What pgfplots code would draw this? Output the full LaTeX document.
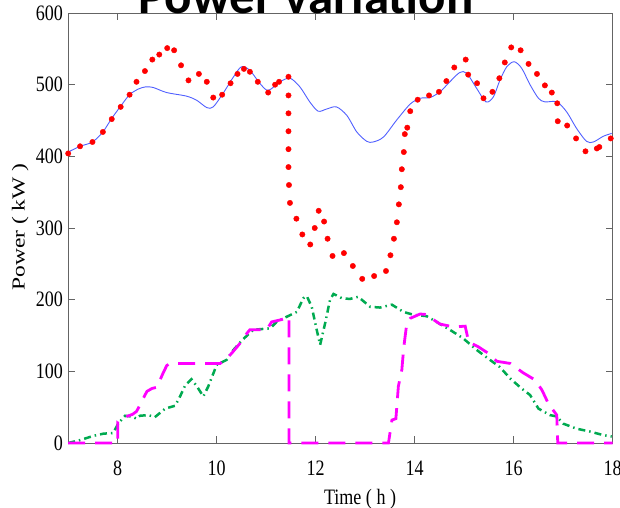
\documentclass[border=0pt]{standalone}
\usepackage{pgfplots}
\pgfplotsset{compat=1.18}
\usepackage{graphicx}
\usepackage{fontspec}
\setmainfont{Liberation Serif}
\newfontfamily\tickfont[FakeStretch=0.82]{Liberation Serif}
\newfontfamily\titlefont{Carlito}
\definecolor{axisgray}{RGB}{100,100,100}
\definecolor{bluel}{RGB}{80,95,255}
\definecolor{greenl}{RGB}{0,170,80}
\definecolor{magl}{RGB}{255,0,255}
\begin{document}
\begin{tikzpicture}
\useasboundingbox (-68.2bp,-65bp) rectangle (551.8bp,443bp);
\begin{axis}[
  at={(0,0)}, anchor=south west,
  scale only axis, width=544.5bp, height=430bp,
  xmin=7, xmax=18, ymin=0, ymax=600,
  xtick={8,10,...,18}, ytick={0,100,...,600},
  tick align=inside, major tick length=7bp,
  axis line style={draw=axisgray, line width=0.8bp},
  tick style={draw=axisgray, line width=0.8bp},
  /pgf/number format/assume math mode=true,
  ticklabel style={font=\tickfont\fontsize{22bp}{24bp}\selectfont, inner sep=0pt},
  xticklabel style={anchor=north, yshift=-18bp},
  yticklabel style={anchor=east, xshift=-5bp},
  xlabel={Time ( h )},
  xlabel style={at={(axis description cs:0.536,-0.142)}, anchor=base, inner sep=0pt, font=\tickfont\fontsize{22bp}{24bp}\selectfont},
  ylabel={\scalebox{1}[0.78]{Power ( kW )}},
  ylabel style={at={(axis description cs:-0.088,0.502)}, anchor=center, inner sep=0pt, font=\fontsize{23.5bp}{26bp}\selectfont},
  clip=false,
]
% blue line
\addplot[color=bluel, line width=0.9bp, smooth, tension=0.5] coordinates {
(7.0,406) (7.24,414) (7.49,420) (7.70,434) (7.88,453) (8.06,470) (8.24,486) (8.42,494) (8.57,497) (8.72,496) (8.99,489) (9.39,484) (9.60,478) (9.80,468) (9.93,469) (10.13,488) (10.34,511) (10.50,525) (10.67,520) (10.87,502) (11.04,492) (11.28,504) (11.48,509) (11.68,497) (11.88,476) (12.05,463) (12.22,466) (12.42,469) (12.63,457) (12.83,434) (13.03,421) (13.16,420) (13.37,427) (13.64,451) (13.91,473) (14.11,481) (14.31,482) (14.51,490) (14.71,504) (14.91,517) (15.05,516) (15.25,495) (15.44,476) (15.59,483) (15.72,506) (15.86,525) (16.01,532) (16.16,523) (16.33,500) (16.50,481) (16.63,476) (16.87,476) (17.07,462) (17.27,439) (17.47,421) (17.61,420) (17.81,428) (17.98,432)
};
% red dots
\addplot[only marks, mark=*, mark size=2.7bp, color=red] coordinates {
(7.0,404) (7.24,414) (7.49,420) (7.70,434) (7.88,452) (8.06,469) (8.24,486) (8.38,504) (8.55,519) (8.70,535) (8.84,542) (9.00,551) (9.14,548) (9.28,527) (9.43,506) (9.64,515) (9.80,504) (9.93,482) (10.11,486) (10.28,502) (10.42,515) (10.55,522) (10.67,518) (10.83,504) (11.04,489) (11.18,500) (11.26,504) (11.45,511)
(11.45,485) (11.45,460) (11.45,435) (11.45,410) (11.45,385) (11.46,360) (11.48,335) (11.61,313) (11.73,291) (11.89,277) (11.98,300) (12.06,324) (12.17,309) (12.24,285) (12.34,261) (12.57,265) (12.75,247) (12.94,229) (13.18,233) (13.42,240) (13.51,262) (13.58,285) (13.64,308) (13.68,333) (13.72,357) (13.74,382) (13.78,406) (13.80,431) (13.85,440) (13.91,463)
(14.06,479) (14.29,485) (14.49,490) (14.64,505) (14.80,524) (15.03,535) (15.08,514) (15.26,502) (15.39,481) (15.57,490) (15.71,509) (15.82,531) (15.95,552) (16.14,548) (16.30,529) (16.47,515) (16.63,499) (16.77,489) (16.88,474) (16.89,449) (17.08,443) (17.26,425) (17.45,407) (17.68,411) (17.73,413) (17.96,425)
};
% green dash-dot
\addplot[color=greenl, line width=2.5bp, dash pattern=on 7bp off 4bp on 1.5bp off 4bp] coordinates {
(7.0,0) (7.24,4) (7.51,10) (7.71,13) (7.91,14) (8.01,27) (8.15,38) (8.28,37) (8.38,34) (8.45,38) (8.62,39) (8.75,36) (8.96,48) (9.16,52) (9.26,65) (9.36,80) (9.49,89) (9.60,79) (9.73,65) (9.83,79) (10.0,109) (10.20,116) (10.34,130) (10.52,144) (10.74,158) (11.08,160) (11.21,169) (11.41,176) (11.62,183) (11.75,202) (11.82,205) (11.92,190) (12.02,158) (12.09,137) (12.19,167) (12.29,200) (12.36,208) (12.53,202) (12.69,201) (12.86,204) (13.10,190) (13.30,189) (13.54,193) (13.77,183) (13.97,179) (14.24,177) (14.44,169) (14.71,158) (14.98,146) (15.25,130) (15.52,116) (15.72,106) (15.93,90) (16.16,76) (16.33,67) (16.50,48) (16.73,39) (16.87,37) (17.00,27) (17.27,20) (17.54,16) (17.81,11) (17.98,9)
};
% magenta dashed
\addplot[color=magl, line width=2.8bp, dash pattern=on 17bp off 10bp] coordinates {
(7,0) (8.0,0) (8.0,30) (8.08,34) (8.18,37) (8.3,40) (8.38,44) (8.45,53) (8.5,60) (8.59,72) (8.69,76) (8.8,78) (8.82,82) (8.9,95) (8.99,108) (9.05,111) (10.07,111) (10.2,118) (10.3,125) (10.47,139) (10.61,153) (10.67,158) (11.01,158) (11.11,169) (11.3,172) (11.46,176) (11.46,0) (13.47,0) (13.54,32) (13.62,34) (13.67,79) (13.74,102) (13.78,134) (13.84,167) (13.91,174) (14.11,180) (14.28,179) (14.38,172) (14.51,166) (14.78,162) (15.02,163) (15.09,141) (15.29,134) (15.49,125) (15.66,114) (15.93,111) (16.03,106) (16.19,98) (16.43,88) (16.57,74) (16.70,55) (16.87,39) (16.89,0) (18,0)
};
\end{axis}
\node[font=\titlefont\bfseries\fontsize{51bp}{56bp}\selectfont, anchor=base, inner sep=0pt] at (237.8bp,429bp) {Power variation};
\end{tikzpicture}
\end{document}
